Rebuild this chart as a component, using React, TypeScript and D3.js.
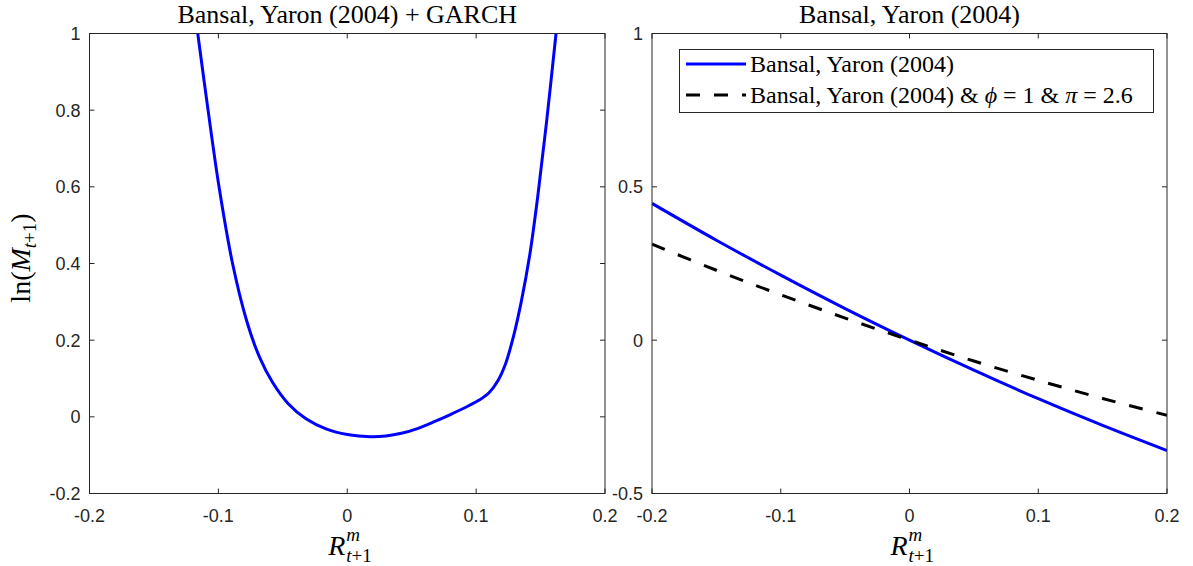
import React from "react";
import * as d3 from "d3";

const W = 1193;
const H = 566;

// Left panel: Bansal, Yaron (2004) + GARCH
const garchX = [-0.116, -0.108, -0.0995, -0.089, -0.078, -0.068, -0.058, -0.046, -0.032, -0.016, 0.0, 0.018, 0.03, 0.042, 0.055, 0.068, 0.08, 0.092, 0.102, 0.11, 0.117, 0.123, 0.129, 0.135, 0.1415, 0.148, 0.155, 0.162];
const garchY = [1.0, 0.8, 0.6, 0.4, 0.25, 0.155, 0.09, 0.035, -0.005, -0.032, -0.046, -0.052, -0.05, -0.043, -0.03, -0.012, 0.006, 0.025, 0.043, 0.063, 0.095, 0.14, 0.21, 0.3, 0.42, 0.58, 0.78, 1.0];

// Right panel
const byX = [-0.2, -0.15, -0.1, -0.05, 0, 0.05, 0.1, 0.15, 0.2];
const byY = [0.446, 0.326, 0.212, 0.103, 0, -0.098, -0.191, -0.278, -0.36];
const byPhiY = [0.313, 0.228, 0.148, 0.072, 0, -0.068, -0.131, -0.19, -0.245];

const xTicks = [-0.2, -0.1, 0, 0.1, 0.2];
const xTickLabels = ["-0.2", "-0.1", "0", "0.1", "0.2"];
const leftYTicks = [-0.2, 0, 0.2, 0.4, 0.6, 0.8, 1];
const leftYTickLabels = ["-0.2", "0", "0.2", "0.4", "0.6", "0.8", "1"];
const rightYTicks = [-0.5, 0, 0.5, 1];
const rightYTickLabels = ["-0.5", "0", "0.5", "1"];

const leftTitle = "Bansal, Yaron (2004) + GARCH";
const rightTitle = "Bansal, Yaron (2004)";
const legendLabel1 = "Bansal, Yaron (2004)";
const legendLabel2Base = "Bansal, Yaron (2004) & ";

const top = 33.5;
const bottom = 493.5;
const LEFT = { x0: 89.5, x1: 605 };
const RIGHT = { x0: 652, x1: 1167 };

const AX = "#262626";
const SERIF = "'Liberation Serif', 'Times New Roman', serif";
const SANS = "'Liberation Sans', Arial, sans-serif";

type PanelProps = {
  x0: number;
  x1: number;
  yDomain: [number, number];
  yTicks: number[];
  yTickLabels: string[];
  title: string;
  id: string;
  children: (x: d3.ScaleLinear<number, number>, y: d3.ScaleLinear<number, number>) => React.ReactNode;
};

function Panel({ x0, x1, yDomain, yTicks, yTickLabels, title, id, children }: PanelProps) {
  const x = d3.scaleLinear().domain([-0.2, 0.2]).range([x0, x1]);
  const y = d3.scaleLinear().domain(yDomain).range([bottom, top]);
  const tl = 5;
  const cx = (x0 + x1) / 2;
  return (
    <g>
      <defs>
        <clipPath id={id}>
          <rect x={x0} y={top} width={x1 - x0} height={bottom - top} />
        </clipPath>
      </defs>
      <rect x={x0} y={top} width={x1 - x0} height={bottom - top} fill="#fff" />
      <g clipPath={`url(#${id})`}>{children(x, y)}</g>
      <rect x={x0} y={top} width={x1 - x0} height={bottom - top} fill="none" stroke={AX} strokeWidth={1} />
      {xTicks.map((t, i) => (
        <g key={"xt" + i}>
          <line x1={x(t)} x2={x(t)} y1={bottom} y2={bottom - tl} stroke={AX} strokeWidth={1} />
          <line x1={x(t)} x2={x(t)} y1={top} y2={top + tl} stroke={AX} strokeWidth={1} />
          <text x={x(t)} y={522} textAnchor="middle" fontFamily={SANS} fontSize={18} fill={AX}>
            {xTickLabels[i]}
          </text>
        </g>
      ))}
      {yTicks.map((t, i) => (
        <g key={"yt" + i}>
          <line x1={x0} x2={x0 + tl} y1={y(t)} y2={y(t)} stroke={AX} strokeWidth={1} />
          <line x1={x1} x2={x1 - tl} y1={y(t)} y2={y(t)} stroke={AX} strokeWidth={1} />
          <text x={x0 - 9} y={y(t) + 6.5} textAnchor="end" fontFamily={SANS} fontSize={18} fill={AX}>
            {yTickLabels[i]}
          </text>
        </g>
      ))}
      <text x={cx} y={23} textAnchor="middle" fontFamily={SERIF} fontSize={26} fill="#000">
        {title}
      </text>
      {/* x label R^m_{t+1} */}
      <g fontFamily={SERIF} fill="#000">
        <text x={cx - 2} y={555} textAnchor="end" fontSize={28} fontStyle="italic">R</text>
        <text x={cx - 1} y={541} fontSize={19} fontStyle="italic">m</text>
        <text x={cx - 1} y={562} fontSize={19}>
          <tspan fontStyle="italic">t</tspan>+1
        </text>
      </g>
    </g>
  );
}

export default function App() {
  const line = (xs: number[], ys: number[], x: any, y: any) =>
    d3
      .line<number>()
      .x((_, i) => x(xs[i]))
      .y((v) => y(v))
      .curve(d3.curveCatmullRom.alpha(0.5))(ys) || "";

  return (
    <svg width={W} height={H} style={{ position: "absolute", left: 0, top: 0, background: "#fff" }}>
      <rect width={W} height={H} fill="#fff" />
      <Panel
        x0={LEFT.x0}
        x1={LEFT.x1}
        yDomain={[-0.2, 1]}
        yTicks={leftYTicks}
        yTickLabels={leftYTickLabels}
        title={leftTitle}
        id="clipL"
      >
        {(x, y) => <path d={line(garchX, garchY, x, y)} fill="none" stroke="#0000ff" strokeWidth={3} />}
      </Panel>
      <Panel
        x0={RIGHT.x0}
        x1={RIGHT.x1}
        yDomain={[-0.5, 1]}
        yTicks={rightYTicks}
        yTickLabels={rightYTickLabels}
        title={rightTitle}
        id="clipR"
      >
        {(x, y) => (
          <g>
            <path d={line(byX, byY, x, y)} fill="none" stroke="#0000ff" strokeWidth={3} />
            <path d={line(byX, byPhiY, x, y)} fill="none" stroke="#000" strokeWidth={3} strokeDasharray="14,14" />
          </g>
        )}
      </Panel>
      {/* y label */}
      <text
        transform="translate(30,258) rotate(-90)"
        textAnchor="middle"
        fontFamily={SERIF}
        fontSize={28}
        fill="#000"
      >
        ln(<tspan fontStyle="italic">M</tspan>
        <tspan fontSize={19} dy={6}>
          <tspan fontStyle="italic">t</tspan>+1
        </tspan>
        <tspan dy={-6}>)</tspan>
      </text>
      {/* legend */}
      <g>
        <rect x={679.5} y={49.5} width={474} height={63} fill="#fff" stroke={AX} strokeWidth={1} />
        <line x1={686} x2={746} y1={64} y2={64} stroke="#0000ff" strokeWidth={3} />
        <line x1={686} x2={746} y1={95} y2={95} stroke="#000" strokeWidth={3} strokeDasharray="14,14" />
        <text x={750} y={72} fontFamily={SERIF} fontSize={24} fill="#000">
          {legendLabel1}
        </text>
        <text x={750} y={103} fontFamily={SERIF} fontSize={24} fill="#000">
          {legendLabel2Base}
          <tspan fontStyle="italic">{"\u03d5"}</tspan>
          {" = 1 & "}
          <tspan fontStyle="italic">{"\u03c0"}</tspan>
          {" = 2.6"}
        </text>
      </g>
    </svg>
  );
}
